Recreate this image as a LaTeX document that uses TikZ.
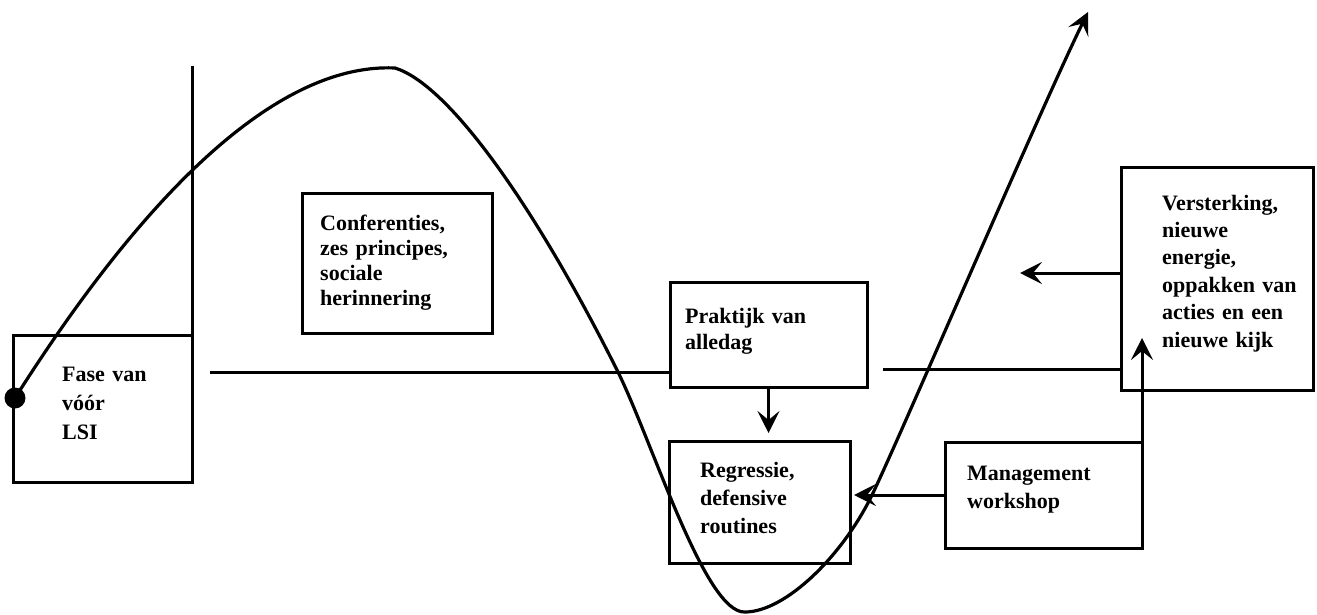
\documentclass[tikz,border=0pt]{standalone}
\usepackage{fontspec}
\setmainfont{Liberation Serif}
\usetikzlibrary{arrows.meta,fit}
\begin{document}
\begin{tikzpicture}[x={(1pt,0)},y={(0,-1pt)},
  box/.style={draw, line width=3pt, inner sep=0pt, outer sep=0pt},
  txt/.style={anchor=base west, inner sep=0pt, align=left, text width=220pt, font=\fontsize{22}{#1}\selectfont\bfseries},
  txt/.default=27,
  ln/.style={line width=3pt},
  tip/.style={-{Stealth[length=22pt,width=22pt,inset=9pt]}},
  arr/.style={line width=3pt, tip},
  curve/.style={line width=3.2pt, line join=round}]
\useasboundingbox (0,0) rectangle (1317,615);
% boxes
\coordinate (f1) at (13,335); \coordinate (f2) at (192,482);
\coordinate (c1) at (302,193); \coordinate (c2) at (492,333);
\coordinate (p1) at (670,282); \coordinate (p2) at (867,387);
\coordinate (r1) at (669,441); \coordinate (r2) at (850,563);
\coordinate (m1) at (945,442); \coordinate (m2) at (1142,548);
\coordinate (v1) at (1121,167); \coordinate (v2) at (1313,390);
\node[box, fit=(f1)(f2)] (fase) {};
\node[box, fit=(c1)(c2)] (conf) {};
\node[box, fit=(p1)(p2)] (prak) {};
\node[box, fit=(r1)(r2)] (regr) {};
\node[box, fit=(m1)(m2)] (mgmt) {};
\node[box, fit=(v1)(v2)] (verst) {};
% texts
\node[txt=29] (tfase) at (62,381) {Fase van\\vóór\\LSI};
\node[txt=25] (tconf) at (320,230) {Conferenties,\\zes principes,\\sociale\\herinnering};
\node[txt=26] (tprak) at (685,323) {Praktijk van\\alledag};
\node[txt=28] (tregr) at (700,477) {Regressie,\\defensive\\routines};
\node[txt=28] (tmgmt) at (967,480) {Management\\workshop};
\node[txt=27.4] (tverst) at (1162,210) {Versterking,\\nieuwe\\energie,\\oppakken van\\acties en een\\nieuwe kijk};
% dot
\node[circle, fill, minimum size=21pt, inner sep=0pt] (dot) at (15,398) {};
% vertical line above the first box
\coordinate (vtop) at (192,66);
\draw[ln] (fase.north east) -- (vtop);
% horizontal line
\coordinate (h1) at (210,372);
\draw[ln] (h1) -- (h1 -| prak.west);
\coordinate (h2) at (883,369);
\draw[ln] (h2) -- (h2 -| verst.west);
% arrows
\draw[arr, shorten >=8pt] (prak.south) -- (prak.south |- regr.north);
\draw[arr, shorten >=4pt] (mgmt.west) -- (mgmt.west -| regr.east);
\coordinate (vtip) at (1142,338);
\draw[arr] (mgmt.north east) -- (vtip);
\coordinate (vl) at (verst.west |- 0,273);
\coordinate (vlt) at (1020,273);
\draw[arr] (vl) -- (vlt);
% curve
\coordinate (peak) at (395,68);
\coordinate (cA) at (617,370);
\coordinate (bot) at (745,612);
\coordinate (cB) at (873,493);
\coordinate (ctip) at (1088,12);
\draw[curve, tip] (dot.center) .. controls (119,234) and (260,62) .. (peak)
  .. controls (450,85) and (537,210) .. (cA)
  .. controls (652,440) and (705,614) .. (bot)
  .. controls (785,612) and (843,556) .. (cB)
  .. controls (903,430) and (1040,110) .. (ctip);
\end{tikzpicture}
\end{document}
